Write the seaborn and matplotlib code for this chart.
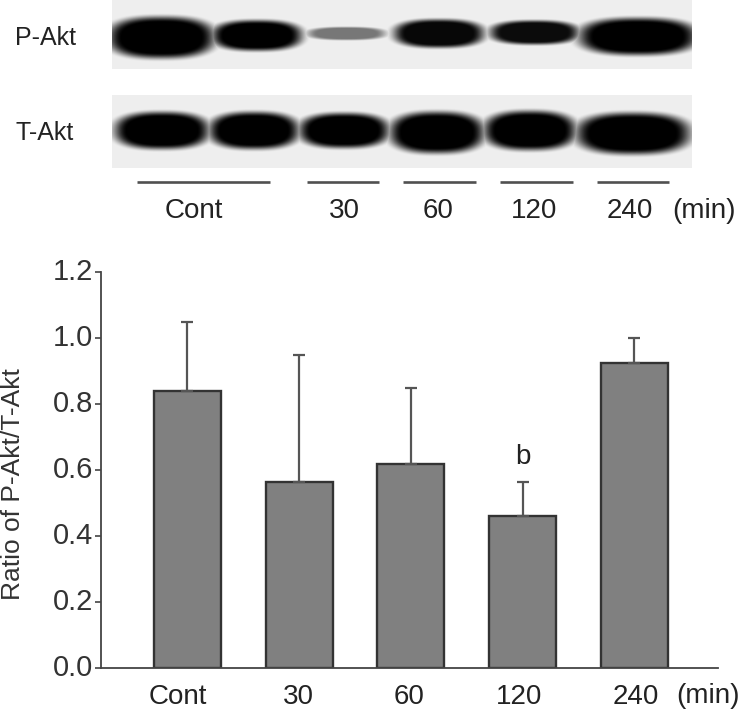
import numpy as np
import pandas as pd
import matplotlib
matplotlib.use('Agg')
import matplotlib.pyplot as plt
from matplotlib.transforms import ScaledTranslation
import seaborn as sns

# Values
groups = ['Cont', '30', '60', '120', '240']
ratio = [0.838, 0.564, 0.618, 0.462, 0.925]
upper = [1.047, 0.949, 0.847, 0.564, 1.000]
tick_pos = [-0.08, 0.99, 1.98, 2.97, 4.01]
y_ticks = [0.0, 0.2, 0.4, 0.6, 0.8, 1.0, 1.2]

# Blot bands: left, right, centre y, half height, darkness (pixels of the picture)
p_left = [112, 215, 310, 397, 493, 583]
p_right = [210, 298, 382, 480, 575, 692]
p_y = [37, 35, 33, 33, 32, 36]
p_half = [19, 14, 6, 13, 11, 17]
p_dark = [1.0, 1.0, 0.5, 0.97, 0.95, 1.0]

t_left = [118, 212, 302, 393, 487, 580]
t_right = [205, 295, 385, 480, 572, 685]
t_y = [130, 130, 130, 132, 130, 133]
t_half = [17, 17, 16, 19, 18, 19]
t_dark = [1.0, 1.0, 1.0, 1.0, 1.0, 1.0]

# Rules under the blots
rule_left = [137, 307, 403, 500, 597]
rule_right = [270, 379, 476, 573, 669]
blot_labels = [194, 344, 438, 534, 630]

sns.set_theme(style='ticks')
plt.rcParams['font.family'] = ['Liberation Sans', 'DejaVu Sans']

W, H = 740, 712
fig = plt.figure(figsize=(W / 100, H / 100), dpi=100)


def blot(top, bottom, left, right, y, half, dark):
    ax = fig.add_axes([112 / W, 1 - bottom / H, 580 / W, (bottom - top) / H])
    xx, yy = np.meshgrid(np.arange(112, 692), np.arange(top, bottom))
    ink = np.zeros(xx.shape)
    for l, r, c, h, d in zip(left, right, y, half, dark):
        cx = (l + r) / 2
        hw = (r - l) / 2
        dist = ((np.abs(xx - cx) / hw) ** 2.5 + (np.abs(yy - c) / h) ** 2.5) ** (1 / 2.5)
        s = np.clip((1.3 - dist) / 0.5, 0, 1)
        ink = np.maximum(ink, d * s * s * (3 - 2 * s))
    ax.imshow(0.93 * (1 - ink), cmap='gray', vmin=0, vmax=1, aspect='auto',
              extent=[112, 692, bottom, top], interpolation='bilinear')
    ax.axis('off')


blot(0, 69, p_left, p_right, p_y, p_half, p_dark)
blot(95, 168, t_left, t_right, t_y, t_half, t_dark)

# Overlay in pixel coordinates for the labels and rules of the top part
top = fig.add_axes([0, 0, 1, 1])
top.set_xlim(0, W)
top.set_ylim(H, 0)
top.axis('off')
top.patch.set_alpha(0)
top.hlines([182] * len(rule_left), rule_left, rule_right, color='#505050', lw=1.9)
top.text(15, 38, 'P-Akt', fontsize=18, va='center', color='#222222')
top.text(15, 133, 'T-Akt', fontsize=18, va='center', color='#222222')
for x, name in zip(blot_labels, groups):
    top.text(x, 211, name, fontsize=20, ha='center', va='center', color='#222222')
top.text(704, 211, '(min)', fontsize=20, ha='center', va='center', color='#222222')

# Bar chart
df = pd.DataFrame({'group': groups, 'ratio': ratio, 'upper': upper})
ax = fig.add_axes([101.5 / W, 1 - 668.3 / H, 616.8 / W, 396.6 / H])
sns.barplot(data=df, x='group', y='ratio', color='#808080', saturation=1,
            width=0.6, edgecolor='#333333', linewidth=1.7, ax=ax)
ax.errorbar(range(len(groups)), df['ratio'], yerr=[[0] * len(groups), df['upper'] - df['ratio']],
            fmt='none', ecolor='#555555', elinewidth=1.6, capsize=4.5, capthick=1.6)
ax.set_xlim(-0.767, 4.75)
ax.set_ylim(0, 1.2)
ax.set_yticks(y_ticks)
ax.set_yticklabels([f'{v:.1f}' for v in y_ticks], fontsize=21, color='#333333')
ax.set_xticks(tick_pos)
ax.set_xticklabels(groups, fontsize=20, color='#222222')
ax.tick_params(axis='x', length=0, pad=11)
ax.tick_params(axis='y', length=4, width=1.2, color='#444444', pad=2)
# tick numbers sit a little above their ticks
shift = ScaledTranslation(0, 3 / 100, fig.dpi_scale_trans)
for lab in ax.get_yticklabels():
    lab.set_transform(lab.get_transform() + shift)
ax.set_xlabel('')
ax.set_ylabel('Ratio of P-Akt/T-Akt', fontsize=19, color='#333333')
ax.yaxis.set_label_coords(-0.124, 0.464)
for side in ['left', 'bottom']:
    ax.spines[side].set_color('#444444')
    ax.spines[side].set_linewidth(1.3)
sns.despine(ax=ax)
ax.patch.set_alpha(0)
ax.text(3.0, 0.64, 'b', fontsize=20, ha='center', va='center', color='#222222')
ax.text(4.66, -0.085, '(min)', fontsize=20, ha='center', va='center', color='#222222', clip_on=False)

fig.savefig('out.png', dpi=100)
